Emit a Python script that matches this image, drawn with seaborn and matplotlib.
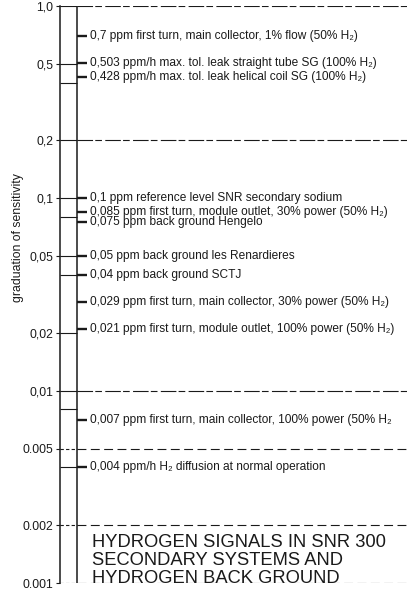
"""
Hydrogen signals in SNR 300 secondary systems -- sensitivity ladder.
Log scale from 0.001 to 1 ppm, every signal marked on a vertical scale line.
"""

import matplotlib
matplotlib.use("Agg")
import matplotlib.pyplot as plt
import seaborn as sns

sns.set_style("white")
plt.rcParams["font.family"] = ["Liberation Sans", "DejaVu Sans"]

# ---- data ----
signal_values = [0.7, 0.503, 0.428, 0.1, 0.085, 0.075, 0.05, 0.04,
                 0.029, 0.021, 0.007, 0.004]
signal_labels = [
    "0,7 ppm first turn, main collector, 1% flow (50% H₂)",
    "0,503 ppm/h max. tol. leak straight tube SG (100% H₂)",
    "0,428 ppm/h max. tol. leak helical coil SG (100% H₂)",
    "0,1 ppm reference level SNR secondary sodium",
    "0,085 ppm first turn, module outlet, 30% power (50% H₂)",
    "0,075 ppm back ground Hengelo",
    "0,05 ppm back ground les Renardieres",
    "0,04 ppm back ground SCTJ",
    "0,029 ppm first turn, main collector, 30% power (50% H₂)",
    "0,021 ppm first turn, module outlet, 100% power (50% H₂)",
    "0,007 ppm first turn, main collector, 100% power (50% H₂",
    "0,004 ppm/h H₂ diffusion at normal operation",
]
tick_values = [1, 0.5, 0.2, 0.1, 0.05, 0.02, 0.01, 0.005, 0.002, 0.001]
tick_labels = ["1,0", "0,5", "0,2", "0,1", "0,05", "0,02", "0,01",
               "0.005", "0.002", "0.001"]
# short rungs between the axis and the scale line
rung_values = [1, 0.5, 0.4, 0.2, 0.1, 0.08, 0.05, 0.04, 0.02, 0.01,
               0.008, 0.005, 0.004, 0.002, 0.001]
# lines across the whole width
grid_solid = [1, 0.2, 0.01]
grid_dashed = [0.005, 0.002, 0.001]
title_lines = ["HYDROGEN SIGNALS IN SNR 300",
               "SECONDARY SYSTEMS AND",
               "HYDROGEN BACK GROUND"]

INK = "#1a1a1a"
SCALE_X = 17      # x of the vertical scale line (data units = pixels)
WIDTH = 347


def main():
    fig = plt.figure(figsize=(4.07, 5.89), dpi=100)
    ax = fig.add_axes([60 / 407, 6 / 589, 347 / 407, 577 / 589])
    ax.set_yscale("log")
    ax.set_ylim(0.001, 1)
    ax.set_xlim(0, WIDTH)

    # spines: only the left one
    sns.despine(ax=ax, top=True, right=True, bottom=True, left=False)
    ax.spines["left"].set_color(INK)
    ax.spines["left"].set_linewidth(1.1)

    # scale line
    ax.vlines(SCALE_X, 0.001, 1, color=INK, lw=1.1)

    # rungs
    for v in rung_values:
        ls = (0, (3, 2)) if v in grid_dashed else "-"
        ax.hlines(v, 0, SCALE_X, color=INK, lw=0.8, linestyles=[ls])

    # full width lines
    ax.hlines(grid_solid, SCALE_X, WIDTH, color=INK, lw=0.8,
              linestyles=[(0, (14, 2, 6, 3))])
    ax.hlines(grid_dashed, SCALE_X, WIDTH, color=INK, lw=0.8,
              linestyles=[(0, (8, 4))])

    # markers + text
    ax.hlines(signal_values, SCALE_X, SCALE_X + 10, color=INK, lw=1.7)
    for v, lab in zip(signal_values, signal_labels):
        ax.text(SCALE_X + 13, v, lab, fontsize=8.6, color=INK,
                va="center", ha="left", clip_on=False)

    ax.set_yticks(tick_values)
    ax.set_yticklabels(tick_labels)
    ax.minorticks_off()
    ax.tick_params(axis="y", which="major", left=True, length=3, width=0.8,
                   pad=2, labelsize=8.8, colors=INK)
    ax.set_xticks([])

    fig.text(18 / 407, 1 - 238 / 589, "graduation of sensitivity",
             rotation=90, fontsize=8.8, color=INK, ha="center", va="center")

    # title in the lower right
    ax.annotate("\n".join(title_lines), xy=(SCALE_X + 15, 0.001),
                xytext=(0, -3), textcoords="offset points",
                fontsize=13.2, color=INK, ha="left", va="bottom",
                linespacing=1.08, annotation_clip=False)

    fig.savefig("out.png", dpi=100)
    plt.close(fig)


if __name__ == "__main__":
    main()
